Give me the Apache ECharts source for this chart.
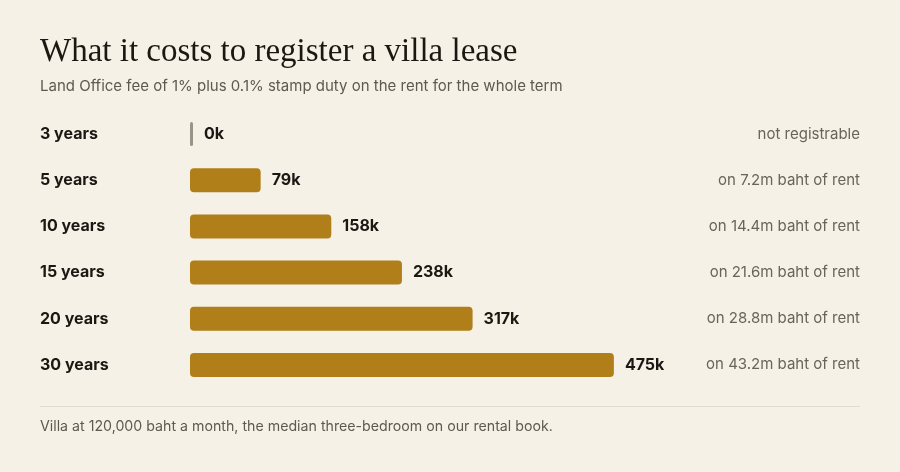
<!DOCTYPE html>
<html><head><meta charset="utf-8">
<script src="https://cdn.jsdelivr.net/npm/echarts@6/dist/echarts.min.js"></script>
<style>html,body{margin:0;padding:0;background:#f5f1e7;}#c{width:900px;height:472px;}</style>
</head><body><div id="c"></div>
<script>
const categories = ['3 years','5 years','10 years','15 years','20 years','30 years'];
const feeThousands = [0, 79.2, 158.4, 237.6, 316.8, 475.2];
const rentLabels = ['not registrable','on 7.2m baht of rent','on 14.4m baht of rent','on 21.6m baht of rent','on 28.8m baht of rent','on 43.2m baht of rent'];

const SANS = 'Inter, "Noto Sans", sans-serif';
const chart = echarts.init(document.getElementById('c'));
chart.setOption({
  backgroundColor: '#f5f1e7',
  animation: false,
  title: [{
    text: 'What it costs to register a villa lease',
    left: 40, top: 36, padding: 0,
    textStyle: {fontFamily: '"Liberation Serif", "DejaVu Serif", serif', fontWeight: 'normal', fontSize: 33, color: '#1c1712'}
  },{
    text: 'Land Office fee of 1% plus 0.1% stamp duty on the rent for the whole term',
    left: 40, top: 79, padding: 0,
    textStyle: {fontFamily: SANS, fontWeight: 'normal', fontSize: 15, color: '#5f594f'}
  }],
  grid: {left: 190, top: 111, width: 446, height: 277},
  xAxis: {type: 'value', min: 0, max: 500, show: false},
  yAxis: [{
    type: 'category', data: categories, inverse: true,
    axisLine: {show: false}, axisTick: {show: false},
    axisLabel: {align: 'left', margin: 150, fontFamily: SANS, fontWeight: 'bold', fontSize: 16, color: '#1c1712'}
  },{
    type: 'category', data: rentLabels, inverse: true, position: 'right',
    axisLine: {show: false}, axisTick: {show: false},
    axisLabel: {align: 'right', margin: 224, fontFamily: SANS, fontSize: 15, color: '#6a6358'}
  }],
  series: [{
    type: 'bar', yAxisIndex: 0,
    data: feeThousands.map(v => ({value: v, itemStyle: {color: v === 0 ? '#9b9385' : '#b07f1a', borderRadius: v === 0 ? 2 : 4}})),
    barWidth: 24, barMinHeight: 3,
    label: {show: true, position: 'right', distance: 11, formatter: p => Math.round(p.value) + 'k',
      fontFamily: SANS, fontWeight: 'bold', fontSize: 16, color: '#1c1712'}
  }],
  graphic: [{
    type: 'line', shape: {x1: 40, y1: 406.5, x2: 860, y2: 406.5}, style: {stroke: '#e3dccd', lineWidth: 1}
  },{
    type: 'text', left: 40, top: 420,
    style: {text: 'Villa at 120,000 baht a month, the median three-bedroom on our rental book.', font: '14.2px ' + SANS, fill: '#5f594f'}
  }]
});
</script></body></html>
